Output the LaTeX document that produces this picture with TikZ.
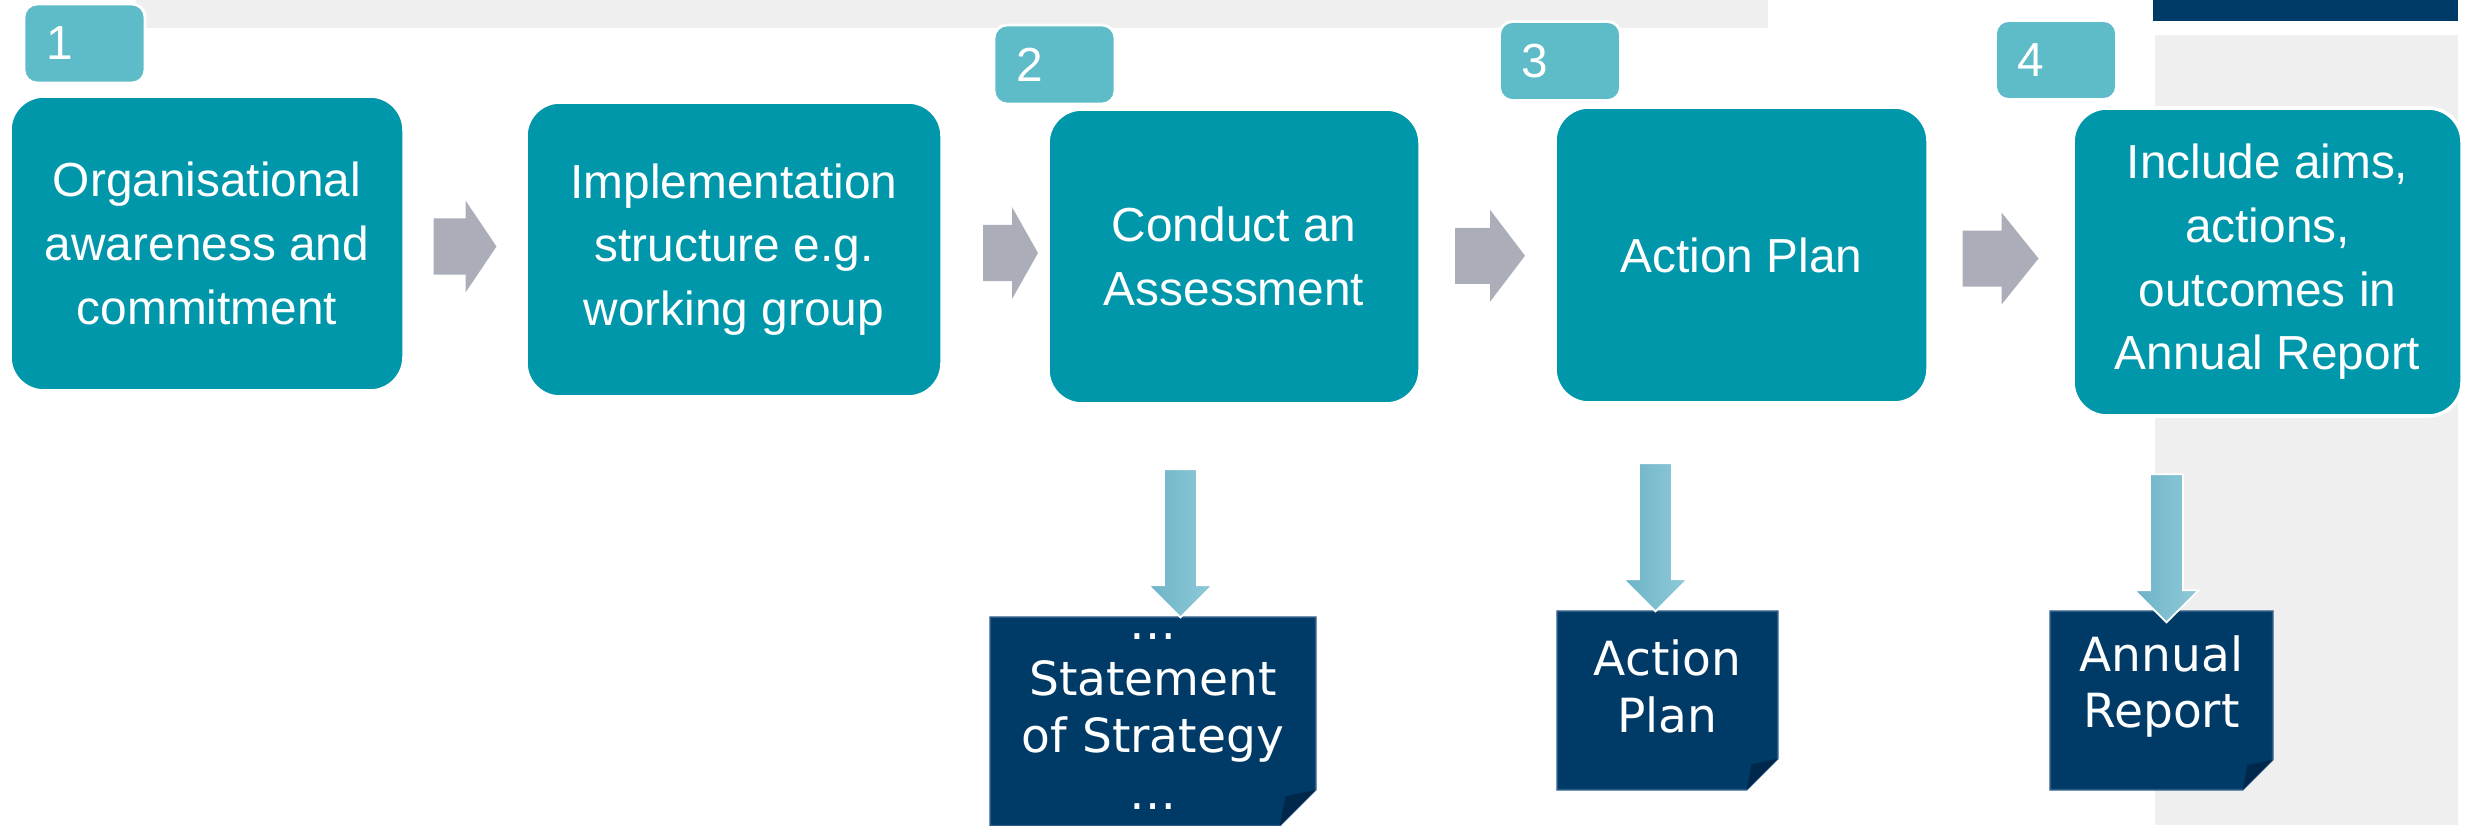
\documentclass[tikz,border=0pt]{standalone}
\usepackage{fontspec}
\setmainfont{Liberation Sans}
\newfontfamily\docfont{DejaVu Sans}
\usetikzlibrary{calc}

\definecolor{stepteal}{HTML}{0097AA}
\definecolor{badgeteal}{HTML}{5EBCC8}
\definecolor{flowgray}{HTML}{ABAEB8}
\definecolor{docnavy}{HTML}{003B67}
\definecolor{docfold}{HTML}{00284A}
\definecolor{docedge}{HTML}{2B5A85}
\definecolor{bandgray}{HTML}{EFEFEF}
\definecolor{feeddark}{HTML}{6DB3C7}
\definecolor{feedlight}{HTML}{8FCAD9}

% grey block arrow between two steps: [shift]{from}{to}{length}{head}
\newcommand\steparrow[5][0]{%
	\fill[flowgray] ($(#2.east)!0.5!(#3.west)+({#1-#4/2},0.28)$) -- ++({#4-#5},0) -- ++(0,0.18)
		-- ++(#5,-0.46) -- ++(-#5,-0.46) -- ++(0,0.18) -- ++({#5-#4},0) -- cycle;}

% light blue arrow dropping onto a document: [shift]{doc}
\newcommand\feedarrow[2][0,0]{%
	\shadedraw[draw=white,line width=0.5pt,left color=feeddark,right color=feedlight]
		($(#2.north)+(#1)$) -- ++(-0.32,0.32) -- ++(0.155,0) -- ++(0,1.16) -- ++(0.33,0)
		-- ++(0,-1.16) -- ++(0.155,0) -- cycle;}

% sheet with a folded corner round an empty node: {node}{fold}
\newcommand\docsheet[2]{%
	\filldraw[fill=docnavy,draw=docedge,line width=0.5pt] (#1.north west) -- (#1.north east)
		-- ([yshift=#2 cm]#1.south east) -- ([xshift=-#2 cm]#1.south east) -- (#1.south west) -- cycle;
	\fill[docfold] ([yshift=#2 cm]#1.south east) -- ($(#1.south east)+(-0.84*#2,0.82*#2)$)
		-- ([xshift=-#2 cm]#1.south east) -- cycle;}

\begin{document}
\begin{tikzpicture}[
	stepbox/.style={rectangle,rounded corners=0.34cm,fill=stepteal,draw=white,line width=1pt,
		text=white,align=center,inner sep=0pt,font=\fontsize{13.6}{18.1}\selectfont},
	badge/.style={rectangle,rounded corners=0.13cm,fill=badgeteal,draw=white,line width=0.8pt,
		text=white,align=left,text width=0.77cm,inner xsep=0.22cm,minimum height=0.79cm,
		font=\fontsize{13.6}{16}\selectfont},
	sheet/.style={rectangle,inner sep=0pt},
	sheettext/.style={text=white,align=center,inner sep=0pt,font=\docfont\fontsize{13.4}{16.2}\selectfont}]

	\useasboundingbox (0,0) rectangle (24.66,8.25);

	% page bands
	\fill[bandgray] (1.36,8.25) rectangle (17.68,7.97);
	\fill[bandgray] (21.55,7.90) rectangle (24.58,0);
	\fill[docnavy] (21.53,8.25) rectangle (24.58,8.04);

	% documents
	\node[sheet,minimum width=3.24cm,minimum height=2.07cm] (doc1) at (11.53,1.035) {};
	\node[sheet,minimum width=2.19cm,minimum height=1.77cm] (doc2) at (16.675,1.245) {};
	\node[sheet,minimum width=2.21cm,minimum height=1.77cm] (doc3) at (21.615,1.245) {};
	\docsheet{doc1}{0.36}
	\docsheet{doc2}{0.31}
	\docsheet{doc3}{0.30}
	\node[sheettext] (doc1txt) at (doc1.center) {…\\Statement\\of Strategy\\…};
	\node[sheettext] (doc2txt) at ([yshift=0.14cm]doc2.center) {Action\\Plan};
	\node[sheettext] (doc3txt) at ([yshift=0.14cm]doc3.center) {Annual\\Report};

	% steps
	\node[stepbox,minimum width=3.94cm,minimum height=2.95cm] (s1) at (2.07,5.815) {Organisational\\awareness and\\commitment};
	\node[stepbox,minimum width=4.16cm,minimum height=2.95cm] (s2) at (7.34,5.755) {Implementation\\structure e.g.\\working group};
	\node[stepbox,minimum width=3.72cm,minimum height=2.95cm] (s3) at (12.34,5.685) {Conduct an\\Assessment};
	\node[stepbox,minimum width=3.73cm,minimum height=2.96cm] (s4) at (17.415,5.70) {Action Plan};
	\node[stepbox,minimum width=3.89cm,minimum height=3.08cm] (s5) at (22.675,5.63) {Include aims,\\actions,\\outcomes in\\Annual Report};

	\node[badge] (n1) at (0.845,7.815) {1};
	\node[badge] (n2) at (10.545,7.605) {2};
	\node[badge] (n3) at (15.60,7.64) {3};
	\node[badge] (n4) at (20.56,7.65) {4};

	\steparrow{s1}{s2}{0.63}{0.31}
	\steparrow[0.155]{s2}{s3}{0.55}{0.26}
	\steparrow[0.025]{s3}{s4}{0.70}{0.35}
	\steparrow{s4}{s5}{0.76}{0.37}

	\feedarrow[0.275,0]{doc1}
	\feedarrow[-0.12,0]{doc2}
	\feedarrow[0.05,-0.11]{doc3}

\end{tikzpicture}
\end{document}
